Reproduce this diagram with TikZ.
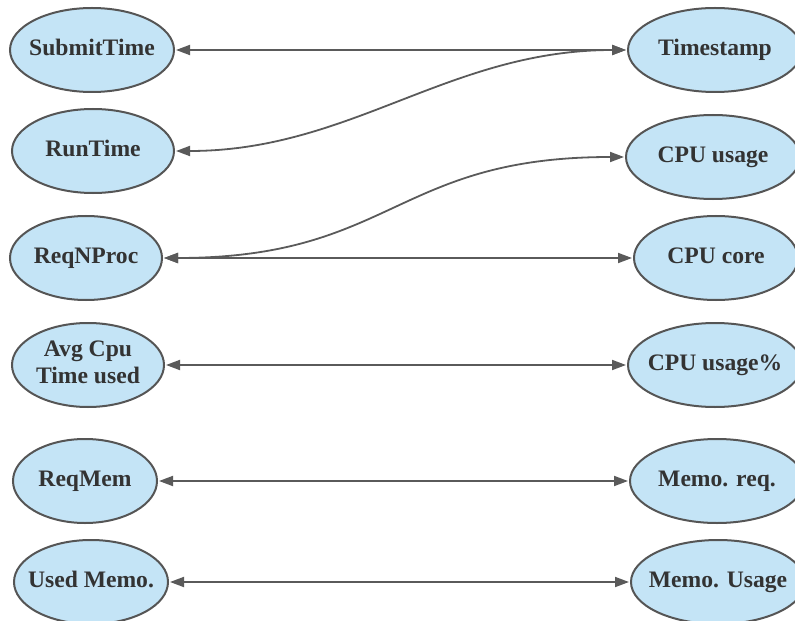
\documentclass[tikz,border=0pt]{standalone}
\usepackage{fontspec}
\setmainfont{Liberation Serif}
\usetikzlibrary{shapes.geometric,arrows.meta}
\definecolor{elfill}{RGB}{196,228,246}
\definecolor{eldraw}{RGB}{85,85,85}
\definecolor{eltext}{RGB}{51,51,51}
\definecolor{conn}{RGB}{90,90,90}
\newcommand{\elbl}[1]{\makebox[0pt][c]{\raisebox{-1bp}{\begin{tabular}{@{}c@{}}#1\end{tabular}}}}
\tikzset{
  el/.style={ellipse, draw=eldraw, fill=elfill, line width=2bp, inner sep=0pt,
    minimum height=84bp, text=eltext,
    font=\fontsize{23.7pt}{27pt}\selectfont\bfseries},
  link/.style={draw=conn, line width=1.8bp, shorten <=1bp, shorten >=1bp,
    {Triangle[length=14bp,width=10bp]}-{Triangle[length=14bp,width=10bp]}}
}
\begin{document}
\begin{tikzpicture}[x=1bp,y=-1bp]
\useasboundingbox (0,0) rectangle (795,621);
% left column
\node[el, minimum width=164bp] (st)  at (92,50)  {\elbl{SubmitTime}};
\node[el, minimum width=162bp] (rt)  at (93,151) {\elbl{RunTime}};
\node[el, minimum width=152bp] (rq)  at (86,258) {\elbl{ReqNProc}};
\node[el, minimum width=152bp] (avg) at (88,365) {\elbl{Avg Cpu\\Time used}};
\node[el, minimum width=144bp] (rm)  at (85,481) {\elbl{ReqMem}};
\node[el, minimum width=154bp] (um)  at (91,582) {\elbl{Used Memo.}};
% right column
\node[el, minimum width=174bp] (ts) at (715,50)  {\elbl{Timestamp}};
\node[el, minimum width=174bp] (cu) at (713,157) {\elbl{CPU usage}};
\node[el, minimum width=164bp] (cc) at (716,258) {\elbl{CPU core}};
\node[el, minimum width=174bp] (cp) at (715,365) {\elbl{CPU usage\%}};
\node[el, minimum width=174bp] (mr) at (717,481) {\elbl{Memo. req.}};
\node[el, minimum width=174bp] (mu) at (718,582) {\elbl{Memo. Usage}};
% connectors
\path[link] (st.east) -- (ts.west);
\path[link] (ts.west) .. controls +(-178,0) and +(176,0) .. (rt.east);
\path[link] (rq.east) .. controls +(230,0) and +(-230,0) .. (cu.west);
\path[link] (rq.east) -- (cc.west);
\path[link] (avg.east) -- (cp.west);
\path[link] (rm.east) -- (mr.west);
\path[link] (um.east) -- (mu.west);
\end{tikzpicture}
\end{document}
